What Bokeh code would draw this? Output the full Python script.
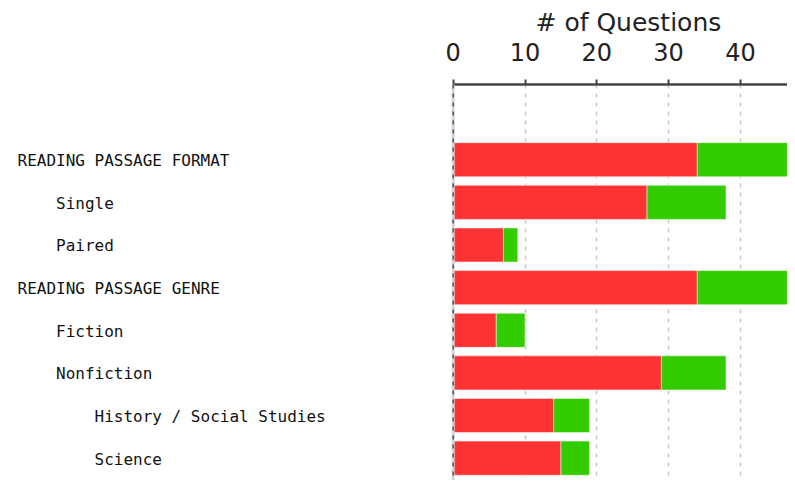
from bokeh.plotting import figure
from bokeh.models import ColumnDataSource, Range1d, FixedTicker, Span, Title
from bokeh.core.properties import value
from bokeh.embed import file_html
from bokeh.resources import INLINE

# ---- data ----
categories = [
    "READING PASSAGE FORMAT",
    "Single",
    "Paired",
    "READING PASSAGE GENRE",
    "Fiction",
    "Nonfiction",
    "History / Social Studies",
    "Science",
    "",
]
indent_levels = [0, 1, 1, 0, 1, 1, 2, 2, 2]
red_values = [34, 27, 7, 34, 6, 29, 14, 15, 13]
green_values = [13, 11, 2, 13, 4, 9, 5, 4, 5]
x_ticks = [0, 10, 20, 30, 40]
axis_title = "# of Questions"

RED = "#FF3333"
GREEN = "#33CC00"

W, H = 787, 480
TOP = 84
px_per_unit = 7.18
zero_px = 452.7          # canvas x of value 0
row_px = 42.64           # pixels per category row
first_row_px = 159.2     # canvas y of first row centre

x_start = -zero_px / px_per_unit
x_end = (W - zero_px) / px_per_unit
y_top = (TOP - first_row_px) / row_px
y_bottom = (H - first_row_px) / row_px

ys = list(range(len(categories)))
src = ColumnDataSource(dict(
    y=ys,
    red=red_values,
    green=green_values,
))
named = [(i, c, lvl) for i, (c, lvl) in enumerate(zip(categories, indent_levels)) if c]
lab_src = ColumnDataSource(dict(
    y=[n[0] for n in named],
    label=[n[1] for n in named],
    xo=[17 + 38.52 * n[2] for n in named],
    x=[x_start] * len(named),
))

p = figure(
    width=W, height=H,
    x_range=Range1d(x_start, x_end),
    y_range=Range1d(y_bottom, y_top),
    x_axis_location="above",
    y_axis_location=None,
    output_backend="svg",
    toolbar_location=None,
    min_border_left=0, min_border_right=0, min_border_bottom=0, min_border_top=TOP,
)
p.outline_line_color = None
p.background_fill_color = "white"
p.border_fill_color = "white"

# grid
p.ygrid.visible = False
p.xgrid.ticker = FixedTicker(ticks=x_ticks)
p.xgrid.grid_line_color = "#c8c8c8"
p.xgrid.grid_line_width = 1.5
p.xgrid.grid_line_dash = "4 5"

# zero line
p.add_layout(Span(location=0, dimension="height", line_color="#d4d4d4", line_width=3))
p.add_layout(Span(location=0, dimension="height", line_color="#555555", line_width=1.5, line_dash="4 5"))

# bars
p.hbar_stack(["red", "green"], y="y", height=0.8, color=[RED, GREEN],
             line_color="white", line_width=1, line_alpha=0.5, source=src)

# labels
p.text(x="x", y="y", text="label", x_offset="xo", y_offset=1, source=lab_src,
       text_font=value("DejaVu Sans Mono"), text_font_size="16px",
       text_color="#111111", text_baseline="middle", text_align="left")

# axis
ax = p.xaxis[0]
ax.ticker = FixedTicker(ticks=x_ticks)
ax.bounds = (0, 49.3)
ax.major_label_text_font = "DejaVu Sans"
ax.major_label_text_font_size = "24px"
ax.major_label_text_color = "#222222"
ax.major_label_standoff = 19
ax.axis_line_color = "#444444"
ax.axis_line_width = 2.5
ax.major_tick_line_color = "#444444"
ax.major_tick_line_width = 2
ax.major_tick_out = 5
ax.major_tick_in = 0
ax.minor_tick_line_color = None

# axis title, centred over the (wider) original axis span
p.add_layout(Title(
    text=axis_title, align="left", offset=535, standoff=6,
    text_font="DejaVu Sans", text_font_size="25px", text_font_style="normal",
    text_color="#222222",
), "above")

open("out.html", "w").write(file_html(p, INLINE))
